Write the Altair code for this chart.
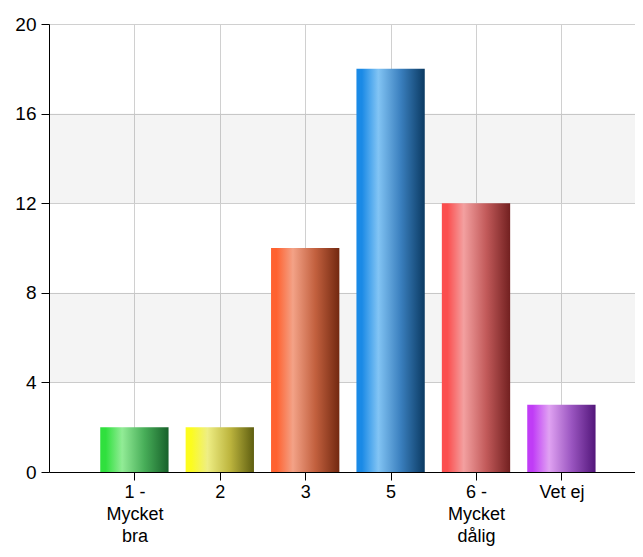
import json
import altair as alt
import pandas as pd

# ---- data ----
categories = ["1 - Mycket bra", "2", "3", "5", "6 - Mycket dålig", "Vet ej"]
label_lines = [["1 -", "Mycket", "bra"], ["2"], ["3"], ["5"], ["6 -", "Mycket", "dålig"], ["Vet ej"]]
counts = [2, 2, 10, 18, 12, 3]
positions = [1, 2, 3, 4, 5, 6]
y_ticks = [0, 4, 8, 12, 16, 20]
band_starts = [4, 12]
band_ends = [8, 16]
# left edge, highlight, middle, right edge
bar_colors = [
    ["#30e03e", "#92ec96", "#47ad58", "#17612a"],
    ["#fcfc1e", "#eeee84", "#bdb53e", "#5e5e10"],
    ["#ff6230", "#f3a287", "#c2603e", "#722810"],
    ["#1a8ae6", "#82c4f4", "#3a7fbe", "#0b3a62"],
    ["#fb4e4e", "#f3a0a0", "#c25a5a", "#722020"],
    ["#c03cf6", "#e0a2f2", "#9a55c0", "#52167a"],
]

W, H = 586, 448
step = 85.4
x_max = W / step

df = pd.DataFrame({"category": categories, "count": counts, "pos": positions})
bands = pd.DataFrame({"y0": band_starts, "y1": band_ends})

label_table = json.dumps([[""]] + label_lines, ensure_ascii=False)
label_expr = f"datum.value >= 1 && datum.value <= {len(categories)} ? {label_table}[datum.value] : ''"

FONT = "Liberation Sans"

y_scale = alt.Scale(domain=[0, 20], nice=False)
x_scale = alt.Scale(domain=[0, x_max], nice=False, zero=False)

y_axis = alt.Axis(
    values=y_ticks, title=None, grid=True, gridColor="#d0d0d0",
    domainColor="black", tickColor="black", tickSize=8,
    labelFontSize=19, labelColor="black", labelFont=FONT, labelPadding=5,
)
x_axis = alt.Axis(
    values=positions, title=None, grid=True, gridColor="#d0d0d0",
    domainColor="black", tickColor="black", tickSize=8,
    labelFontSize=18, labelColor="black", labelFont=FONT, labelPadding=3,
    labelLineHeight=22, labelExpr=label_expr, labelAngle=0,
    labelBaseline="top",
)

band_layer = alt.Chart(bands).mark_rect(fill="black", opacity=0.045).encode(
    y=alt.Y("y0:Q", scale=y_scale, axis=y_axis),
    y2="y1:Q",
    x=alt.value(0),
    x2=alt.value(W),
)

layers = [band_layer]
for i, cat in enumerate(categories):
    c = bar_colors[i]
    grad = {
        "gradient": "linear", "x1": 0, "x2": 1, "y1": 0, "y2": 0,
        "stops": [
            {"offset": 0, "color": c[0]},
            {"offset": 0.08, "color": c[0]},
            {"offset": 0.32, "color": c[1]},
            {"offset": 0.65, "color": c[2]},
            {"offset": 1, "color": c[3]},
        ],
    }
    layer = (
        alt.Chart(df)
        .transform_filter(alt.datum.category == cat)
        .transform_calculate(x0="datum.pos - 0.4", x1="datum.pos + 0.4")
        .mark_bar(fill=grad, stroke=None)
        .encode(
            x=alt.X("x0:Q", scale=x_scale, axis=x_axis),
            x2="x1:Q",
            y=alt.Y("count:Q", scale=y_scale, axis=y_axis),
            y2=alt.datum(0),
        )
    )
    layers.append(layer)

chart = (
    alt.layer(*layers)
    .properties(
        width=W, height=H,
        autosize=alt.AutoSizeParams(type="none"),
        padding={"left": 41, "top": 16, "right": 0, "bottom": 76},
        background="white",
    )
    .configure_view(stroke=None)
)

chart.save("out.html", embed_options={"renderer": "svg", "actions": False})
